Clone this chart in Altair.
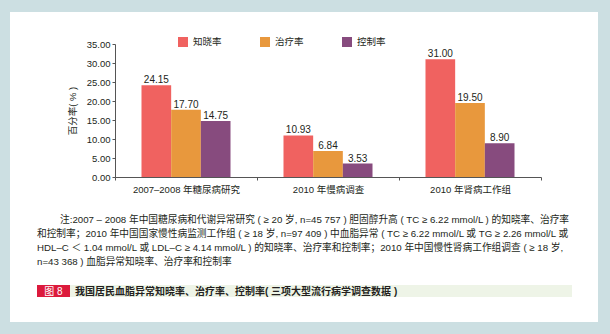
import altair as alt
import pandas as pd

categories = ["2007–2008 年糖尿病研究", "2010 年慢病调查", "2010 年肾病工作组"]
series_names = ["知晓率", "治疗率", "控制率"]
awareness = [24.15, 10.93, 31.00]
treatment = [17.70, 6.84, 19.50]
control = [14.75, 3.53, 8.90]
series_colors = ["#F06260", "#E8983D", "#874B7E"]
y_ticks = [0, 5, 10, 15, 20, 25, 30, 35]
y_title = "百分率( % )"
note_first = "注:2007 – 2008 年中国糖尿病和代谢异常研究 ( ≥ 20 岁, n=45 757 ) 胆固醇升高 ( TC ≥ 6.22 mmol/L ) 的知晓率、治疗率"
note_rest = [
    "和控制率；2010 年中国国家慢性病监测工作组 ( ≥ 18 岁, n=97 409 ) 中血脂异常 ( TC ≥ 6.22 mmol/L 或 TG ≥ 2.26 mmol/L 或",
    "HDL–C ＜ 1.04 mmol/L 或 LDL–C ≥ 4.14 mmol/L ) 的知晓率、治疗率和控制率；2010 年中国慢性肾病工作组调查 ( ≥ 18 岁,",
    "n=43 368 ) 血脂异常知晓率、治疗率和控制率",
]
fig_label = "图 8"
caption = "我国居民血脂异常知晓率、治疗率、控制率( 三项大型流行病学调查数据 )"

rows = []
for s, vals in zip(series_names, [awareness, treatment, control]):
    for c, v in zip(categories, vals):
        rows.append({"cat": c, "series": s, "value": v})
df = pd.DataFrame(rows)

W, H = 426, 133
L, T = 115, 44
FONT = "Liberation Sans, Noto Sans CJK SC"
TXT = "#231F20"
AX = "#555555"
one = pd.DataFrame({"k": [0]})


def px(v):
    return alt.value(v - L)


def py(v):
    return alt.value(v - T)


panel = alt.Chart(one).mark_rect(color="white").encode(
    x=px(10), x2=px(598), y=py(12), y2=py(322))
band = alt.Chart(one).mark_rect(color="#EEF4E7").encode(
    x=px(70), x2=px(572), y=py(285), y2=py(297))
redbox = alt.Chart(one).mark_rect(color="#DC1A3C").encode(
    x=px(37), x2=px(70), y=py(285), y2=py(297))
fig_txt = alt.Chart(one).mark_text(
    font=FONT, fontSize=10, color="white", align="center", baseline="middle"
).encode(x=px(53.5), y=py(291.5), text=alt.value(fig_label))
cap_txt = alt.Chart(one).mark_text(
    font=FONT, fontSize=10, fontWeight="bold", color=TXT, align="left", baseline="middle"
).encode(x=px(75), y=py(291.5), text=alt.value(caption))

NOTE_FS = 9.7
note_layers = [
    alt.Chart(one).mark_text(font=FONT, fontSize=NOTE_FS, color=TXT, align="left", baseline="middle")
    .encode(x=px(60), y=py(220), text=alt.value(note_first))
]
for i, line in enumerate(note_rest):
    note_layers.append(
        alt.Chart(one).mark_text(font=FONT, fontSize=NOTE_FS, color=TXT, align="left", baseline="middle")
        .encode(x=px(37), y=py(234 + i * 14), text=alt.value(line))
    )

x_axis = alt.Axis(title=None, labelAngle=0, tickBand="extent", labelFont=FONT,
                  labelFontSize=9.5, labelColor=TXT, domainColor=AX, tickColor=AX,
                  tickSize=3, labelPadding=4, zindex=1)
y_axis = alt.Axis(values=y_ticks, format=".2f", title=y_title, grid=False,
                  labelOverlap=False, labelFont=FONT, labelFontSize=9.5, labelColor=TXT,
                  domainColor=AX, tickColor=AX, tickSize=3, labelPadding=2,
                  titleFont=FONT, titleFontSize=9.5, titleColor=TXT,
                  titleFontWeight="normal", titleX=-43, titleY=66.5,
                  titleAngle=270, titleAlign="center", titleBaseline="middle", zindex=1)
x_scale = alt.Scale(paddingInner=0, paddingOuter=0)
off_scale = alt.Scale(paddingInner=0, paddingOuter=0.893)
y_scale = alt.Scale(domain=[0, 35], nice=False)

color = alt.Color(
    "series:N", sort=series_names,
    scale=alt.Scale(domain=series_names, range=series_colors),
    legend=alt.Legend(orient="none", legendX=63, legendY=-7, direction="horizontal",
                      title=None, symbolType="square", symbolSize=100,
                      symbolStrokeWidth=0, symbolOpacity=1, labelFont=FONT,
                      labelFontSize=9.5, labelColor=TXT, columnPadding=38,
                      labelOffset=5, zindex=1),
)
bars = alt.Chart(df).mark_bar().encode(
    x=alt.X("cat:N", sort=categories, scale=x_scale, axis=x_axis),
    xOffset=alt.XOffset("series:N", sort=series_names, scale=off_scale),
    y=alt.Y("value:Q", scale=y_scale, axis=y_axis),
    color=color,
)
vals = alt.Chart(df).mark_text(dy=-5, fontSize=10, font=FONT, color=TXT).encode(
    x=alt.X("cat:N", sort=categories, scale=x_scale, axis=x_axis),
    xOffset=alt.XOffset("series:N", sort=series_names, scale=off_scale),
    y=alt.Y("value:Q", scale=y_scale, axis=y_axis),
    text=alt.Text("value:Q", format=".2f"),
)

chart = alt.layer(panel, band, redbox, fig_txt, cap_txt, *note_layers, bars, vals).properties(
    width=W, height=H, autosize="none",
    padding={"left": L, "top": T, "right": 610 - L - W, "bottom": 334 - T - H},
    background="#CCDFE2",
).configure_view(strokeWidth=0)

chart.save("out.html", embed_options={"renderer": "svg", "actions": False})
